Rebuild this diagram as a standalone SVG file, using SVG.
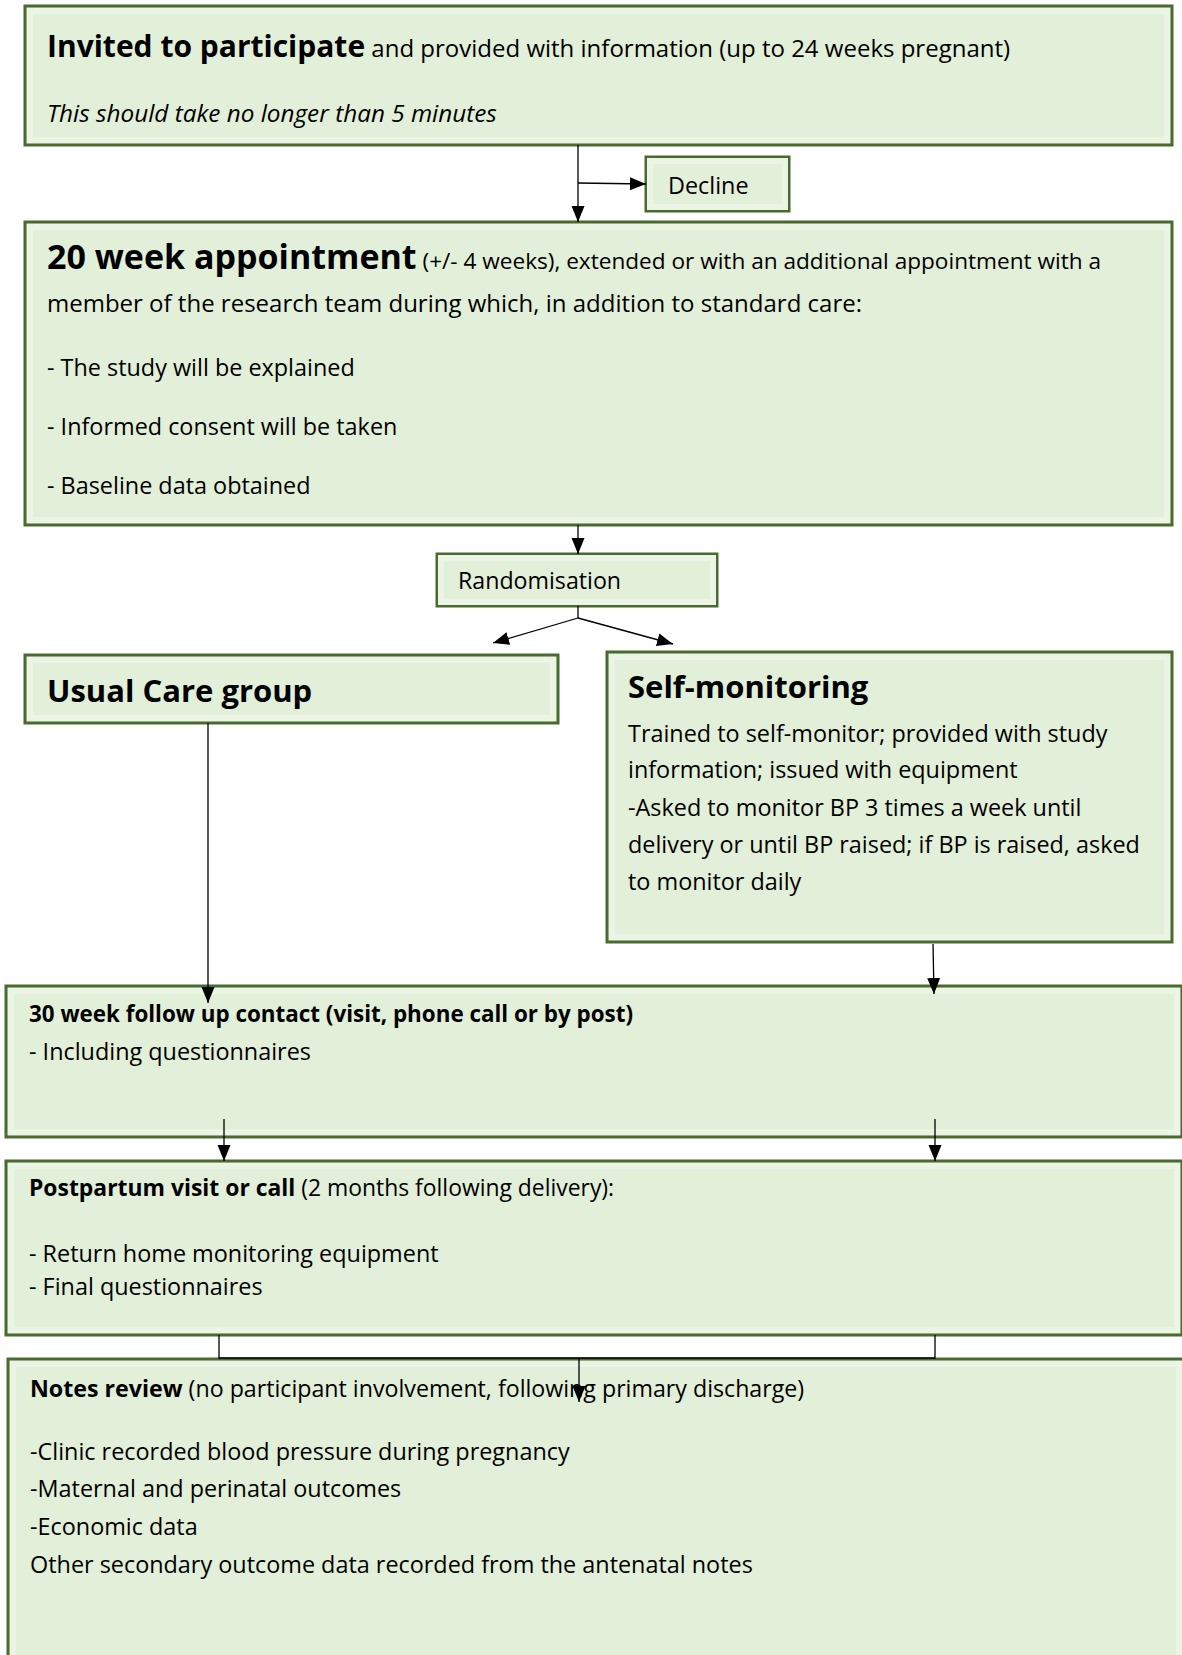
<svg xmlns="http://www.w3.org/2000/svg" width="1182" height="1655" viewBox="0 0 1182 1655">
<defs>
<style>
.box{fill:#e2efd9;stroke:#4a6a2e;stroke-width:3}
.bev{fill:none;stroke:#ebf4e5;stroke-width:6}
text{font-family:"Open Sans","Noto Sans","Liberation Sans",sans-serif;fill:#000}
.t{font-size:23.4px}
.h{font-size:30px;font-weight:bold}
.h2{font-size:31px;font-weight:bold}
.b{font-weight:bold}
.i{font-style:italic}
.ln{stroke:#000;stroke-width:1.3;fill:none}
</style>
<marker id="ah" markerWidth="16" markerHeight="14" viewBox="0 0 16 14" refX="16" refY="7" orient="auto" markerUnits="userSpaceOnUse">
<path d="M0,0.5 L16,7 L0,13.5 Z" fill="#000"/>
</marker>
</defs>
<rect width="1182" height="1655" fill="#fff"/>

<g id="invited">
<rect class="box" x="25" y="6" width="1147" height="139"/>
<rect class="bev" x="30" y="11" width="1137" height="129"/>
<text x="47" y="57" class="t" style="font-size:24px"><tspan class="h">Invited to participate</tspan> and provided with information (up to 24 weeks pregnant)</text>
<text x="47" y="122" class="t i" style="font-size:24.3px">This should take no longer than 5 minutes</text>
</g>

<g id="decline">
<rect class="box" x="646" y="157" width="143" height="54"/>
<rect class="bev" x="650" y="161" width="135" height="46"/>
<text x="668" y="194" class="t">Decline</text>
</g>

<g id="appointment">
<rect class="box" x="25" y="222" width="1147" height="303"/>
<rect class="bev" x="30" y="227" width="1137" height="293"/>
<text x="47" y="269" class="t" style="font-size:22.6px"><tspan style="font-size:34px;font-weight:bold">20 week appointment</tspan> (+/- 4 weeks), extended or with an additional appointment with a</text>
<text x="47" y="312" class="t" style="font-size:24px">member of the research team during which, in addition to standard care:</text>
<text x="47" y="376" class="t">- The study will be explained</text>
<text x="47" y="435" class="t">- Informed consent will be taken</text>
<text x="47" y="494" class="t">- Baseline data obtained</text>
</g>

<g id="randomisation">
<rect class="box" x="437" y="554" width="280" height="52"/>
<rect class="bev" x="441" y="558" width="272" height="44"/>
<text x="458" y="589" class="t" style="font-size:23.2px">Randomisation</text>
</g>

<g id="usual-care">
<rect class="box" x="25" y="655" width="533" height="68"/>
<rect class="bev" x="30" y="660" width="523" height="58"/>
<text x="47" y="702" class="h2">Usual Care group</text>
</g>

<g id="self-monitoring">
<rect class="box" x="607" y="652" width="565" height="290"/>
<rect class="bev" x="612" y="657" width="555" height="280"/>
<text x="628" y="698" class="h2">Self-monitoring</text>
<text x="628" y="742" class="t">Trained to self-monitor; provided with study</text>
<text x="628" y="778" class="t">information; issued with equipment</text>
<text x="628" y="816" class="t">-Asked to monitor BP 3 times a week until</text>
<text x="628" y="853" class="t">delivery or until BP raised; if BP is raised, asked</text>
<text x="628" y="890" class="t">to monitor daily</text>
</g>

<g id="followup">
<rect class="box" x="6" y="986" width="1176" height="151"/>
<rect class="bev" x="11" y="991" width="1166" height="141"/>
<text x="29" y="1022" class="t b" style="font-size:22.4px">30 week follow up contact (visit, phone call or by post)</text>
<text x="29" y="1060" class="t">- Including questionnaires</text>
</g>

<g id="postpartum">
<rect class="box" x="6" y="1161" width="1176" height="174"/>
<rect class="bev" x="11" y="1166" width="1166" height="164"/>
<text x="29" y="1196" class="t" style="font-size:22.9px"><tspan class="b">Postpartum visit or call</tspan> (2 months following delivery):</text>
<text x="29" y="1262" class="t">- Return home monitoring equipment</text>
<text x="29" y="1295" class="t">- Final questionnaires</text>
</g>

<g id="notes">
<rect class="box" x="8" y="1359" width="1176" height="320"/>
<rect class="bev" x="13" y="1364" width="1166" height="310"/>
<text x="30" y="1397" class="t" style="font-size:23.2px"><tspan class="b">Notes review</tspan> (no participant involvement, following primary discharge)</text>
<text x="30" y="1460" class="t">-Clinic recorded blood pressure during pregnancy</text>
<text x="30" y="1497" class="t">-Maternal and perinatal outcomes</text>
<text x="30" y="1535" class="t">-Economic data</text>
<text x="30" y="1573" class="t">Other secondary outcome data recorded from the antenatal notes</text>
</g>

<g id="connectors">
<line class="ln" x1="578" y1="145" x2="578" y2="222" marker-end="url(#ah)"/>
<line class="ln" x1="578" y1="183" x2="646" y2="184" marker-end="url(#ah)"/>
<line class="ln" x1="578" y1="525" x2="578" y2="554" marker-end="url(#ah)"/>
<polyline class="ln" points="578,606 578,618"/>
<line class="ln" x1="578" y1="618" x2="493" y2="643" marker-end="url(#ah)"/>
<line class="ln" x1="578" y1="618" x2="673" y2="644" marker-end="url(#ah)"/>
<line class="ln" x1="208" y1="723" x2="208" y2="1003" marker-end="url(#ah)"/>
<line class="ln" x1="933" y1="944" x2="934" y2="994" marker-end="url(#ah)"/>
<line class="ln" x1="224" y1="1119" x2="224" y2="1161" marker-end="url(#ah)"/>
<line class="ln" x1="935" y1="1119" x2="935" y2="1161" marker-end="url(#ah)"/>
<polyline class="ln" points="219,1335 219,1358 935,1358 935,1335"/>
<line class="ln" x1="579" y1="1358" x2="579" y2="1402" marker-end="url(#ah)"/>
</g>
</svg>
